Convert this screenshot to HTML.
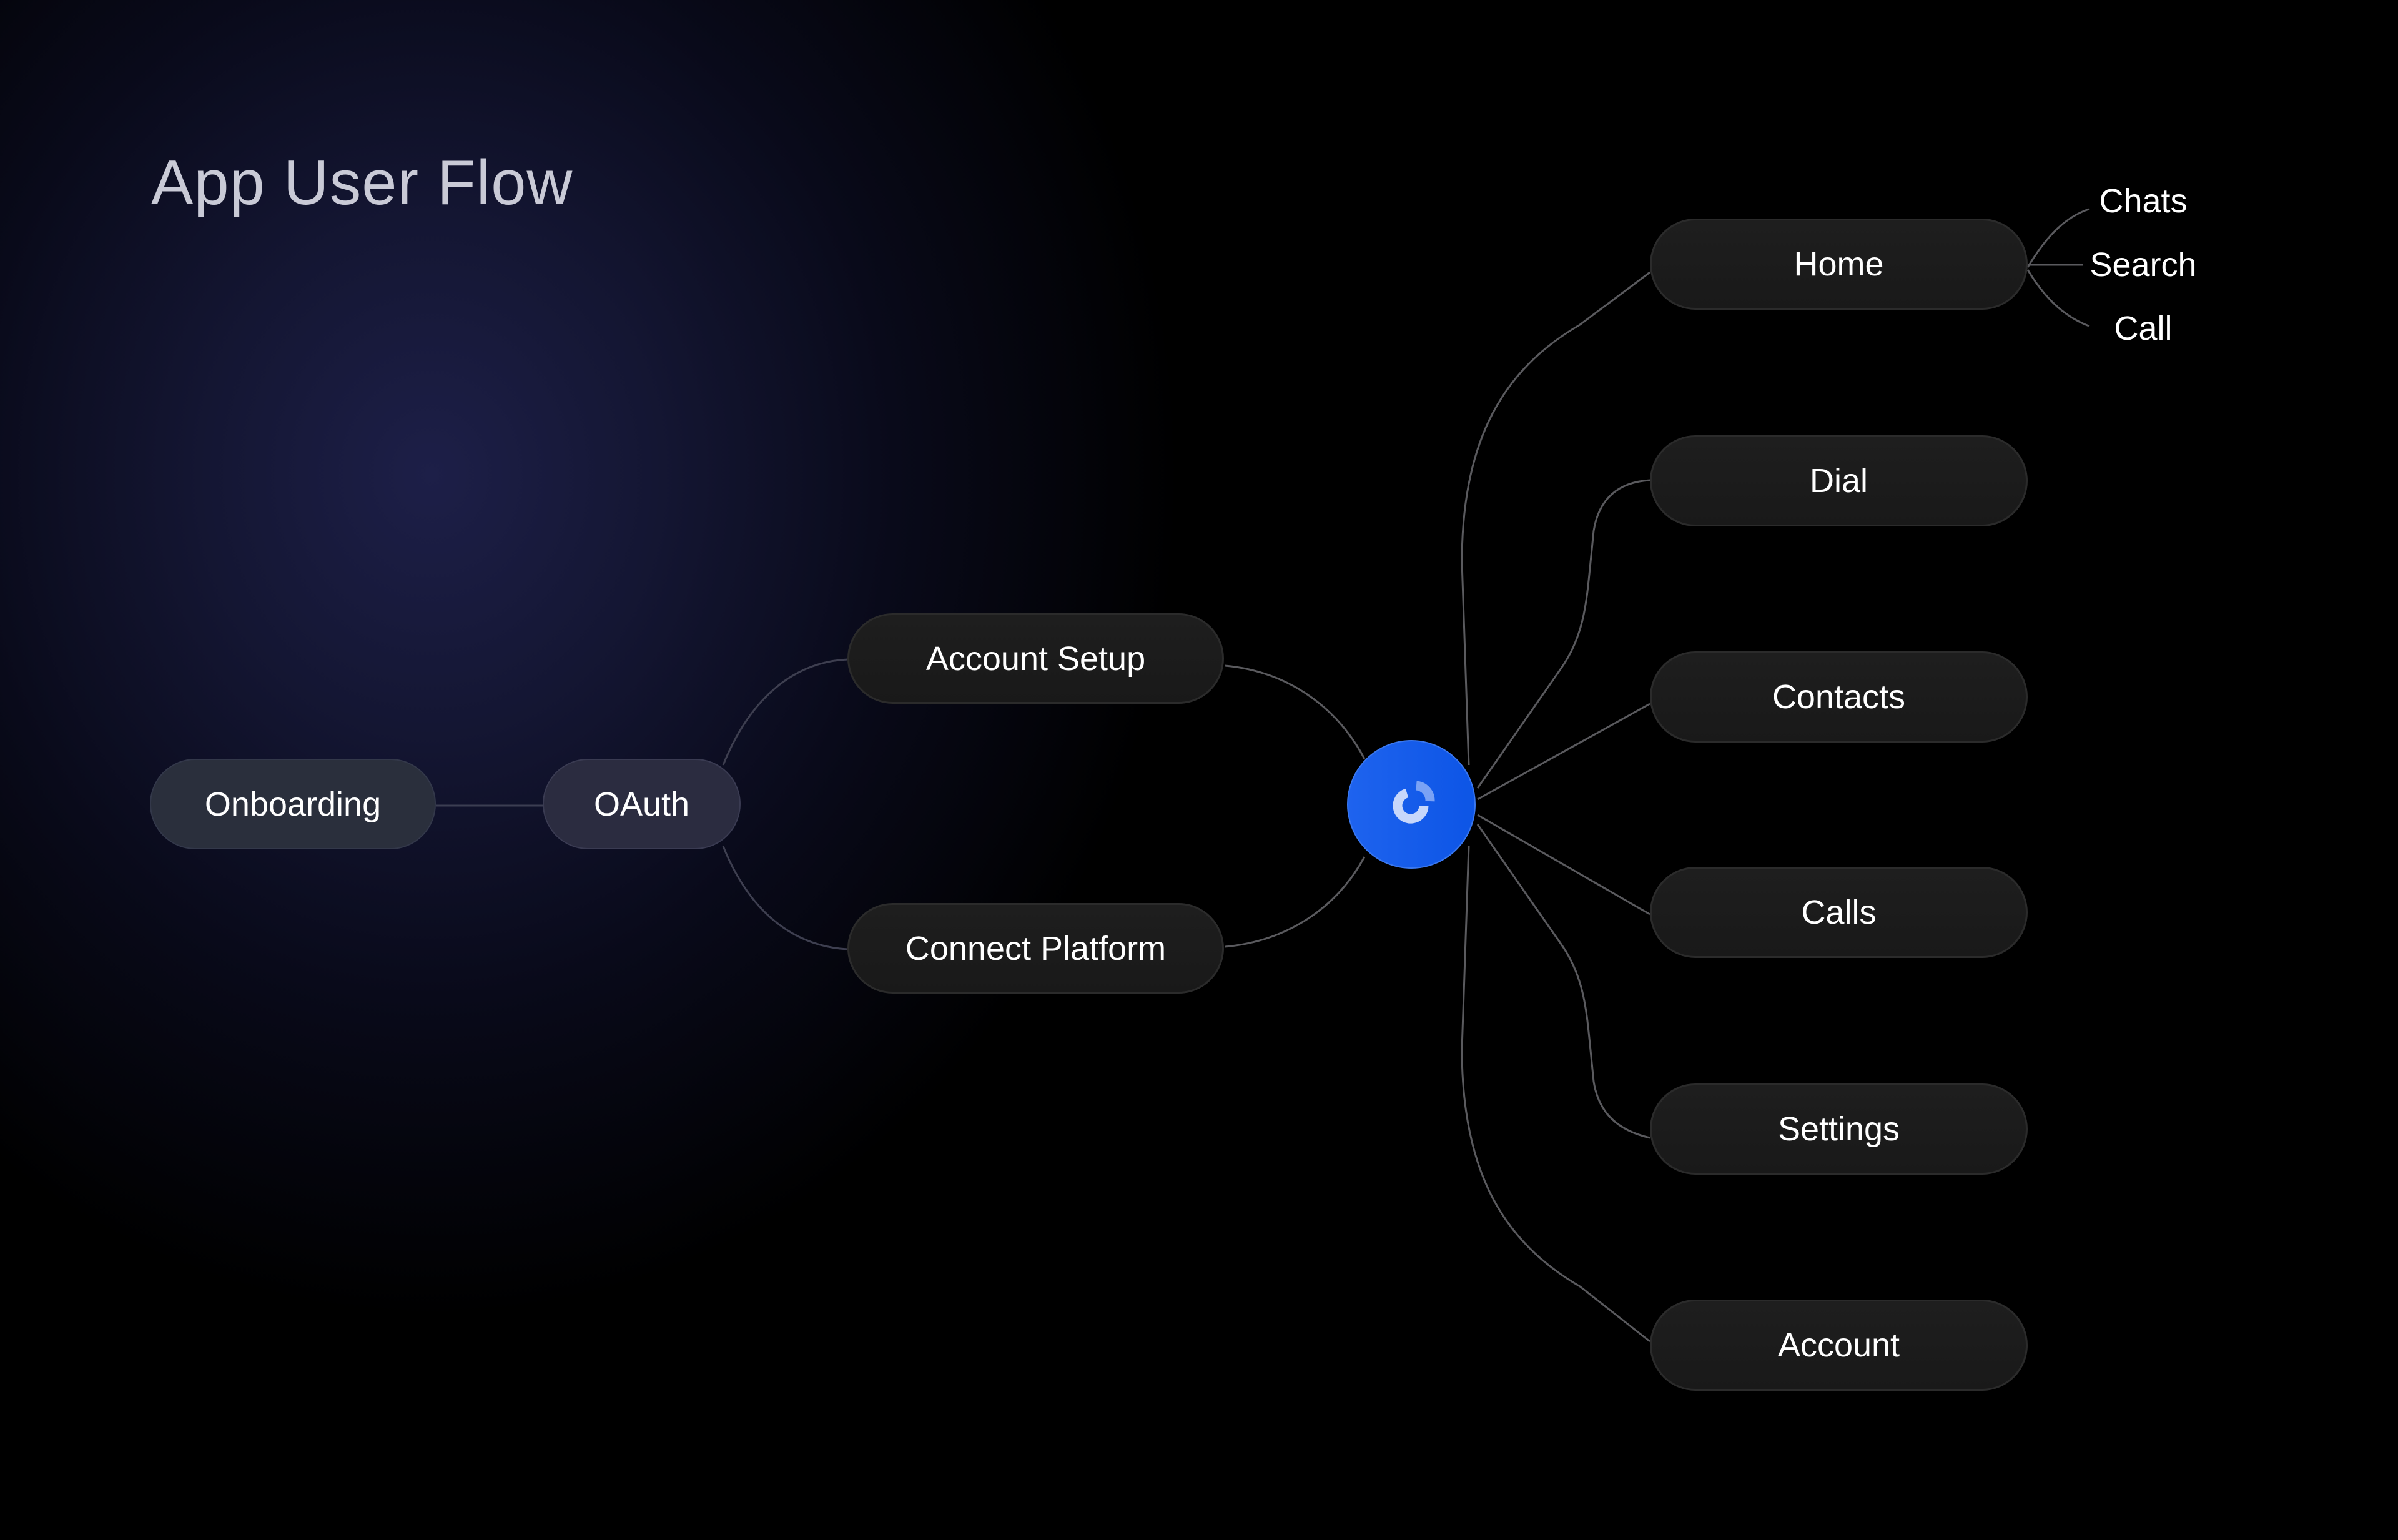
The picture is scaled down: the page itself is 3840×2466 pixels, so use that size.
<!DOCTYPE html>
<html><head><meta charset="utf-8"><style>
html,body{margin:0;padding:0}
body{width:3840px;height:2466px;position:relative;overflow:hidden;background:#000;font-family:"Liberation Sans",sans-serif}
.bg{position:absolute;inset:0;background:radial-gradient(ellipse 1200px 1350px at 690px 760px,#1d1f48 0%,#141633 30%,#090a1a 62%,#000 100%)}
.title{position:absolute;left:242px;top:236px;font-size:101px;color:#c9cad6;letter-spacing:1px}
.pill{position:absolute;border-radius:80px;display:flex;align-items:center;justify-content:center;color:#fff;font-size:54px;box-sizing:border-box}
.dark{background:linear-gradient(180deg,#1e1e1e,#191919);border:3px solid #2b2b2b}
.sub{position:absolute;color:#fff;font-size:54px;transform:translate(-50%,-50%)}
svg{position:absolute;left:0;top:0}
</style></head><body>
<div class="bg"></div>
<div class="title">App User Flow</div>
<svg width="3840" height="2466" fill="none" stroke="#5a5a5e" stroke-width="3">
<path d="M698 1290 L869 1290" stroke="#3c3e52"/>
<path d="M1158 1225 C1200 1120 1270 1060 1357 1056" stroke="#3e3f50"/>
<path d="M1158 1355 C1200 1460 1270 1515 1357 1520" stroke="#3e3f50"/>
<path d="M1962 1066 C2060 1075 2140 1130 2185 1215"/>
<path d="M1962 1516 C2060 1507 2140 1455 2185 1372"/>
<path d="M2352 1225 L2341 900 C2341 700 2410 590 2530 520 L2642 436"/>
<path d="M2366 1262 L2500 1070 C2535 1020 2540 970 2546 910 L2552 850 C2560 800 2590 772 2642 769"/>
<path d="M2366 1280 L2642 1127"/>
<path d="M2366 1305 L2642 1464"/>
<path d="M2366 1320 L2500 1512 C2535 1562 2540 1612 2546 1672 L2552 1732 C2560 1782 2590 1810 2642 1822"/>
<path d="M2352 1355 L2341 1680 C2341 1880 2410 1990 2530 2060 L2642 2148"/>
<path d="M3247 428 C3270 390 3300 350 3345 335"/>
<path d="M3247 424 L3335 424"/>
<path d="M3247 432 C3270 470 3300 505 3345 522"/>
</svg>
<div class="pill" style="left:240px;top:1215px;width:458px;height:145px;background:#2a2f3c;border:2px solid #33384a">Onboarding</div>
<div class="pill" style="left:869px;top:1215px;width:317px;height:145px;background:#2b2c40;border:2px solid #3a3b52">OAuth</div>
<div class="pill dark" style="left:1357px;top:982px;width:603px;height:145px">Account Setup</div>
<div class="pill dark" style="left:1357px;top:1446px;width:603px;height:145px">Connect Platform</div>
<div class="pill dark" style="left:2642px;top:350px;width:605px;height:146px">Home</div>
<div class="pill dark" style="left:2642px;top:697px;width:605px;height:146px">Dial</div>
<div class="pill dark" style="left:2642px;top:1043px;width:605px;height:146px">Contacts</div>
<div class="pill dark" style="left:2642px;top:1388px;width:605px;height:146px">Calls</div>
<div class="pill dark" style="left:2642px;top:1735px;width:605px;height:146px">Settings</div>
<div class="pill dark" style="left:2642px;top:2081px;width:605px;height:146px">Account</div>
<div class="sub" style="left:3432px;top:322px">Chats</div>
<div class="sub" style="left:3432px;top:424px">Search</div>
<div class="sub" style="left:3432px;top:526px">Call</div>
<div style="position:absolute;left:2157px;top:1185px;width:206px;height:206px;border-radius:50%;background:linear-gradient(90deg,#1e63ee,#0d55e6);border:2px solid #3a78f0;box-sizing:border-box"></div>
<svg width="3840" height="2466" style="pointer-events:none">
<path d="M2253 1270 A21 21 0 1 0 2280 1290" stroke="#c7d7fb" stroke-width="15" fill="none"/>
<path d="M2268 1258 A24 24 0 0 1 2290 1283" stroke="#7aa2f5" stroke-width="15" fill="none"/>
</svg>
</body></html>
